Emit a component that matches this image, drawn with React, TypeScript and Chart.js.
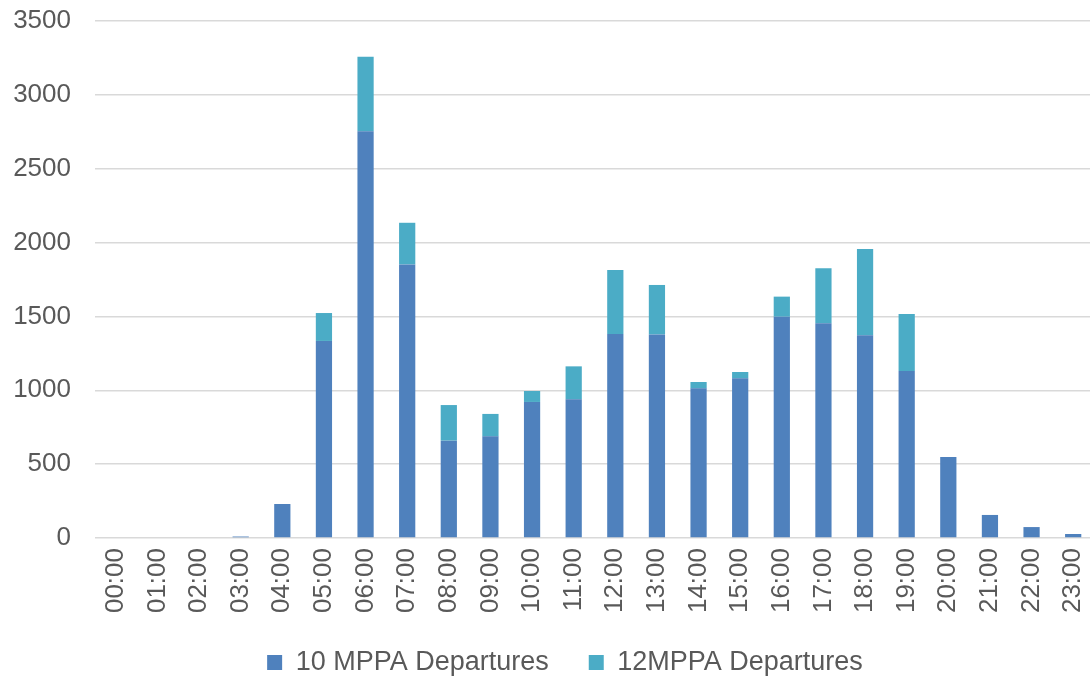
import React, { useEffect, useRef } from "react";
import { Chart, registerables } from "chart.js";

Chart.register(...registerables);

const hours = [
  "00:00", "01:00", "02:00", "03:00", "04:00", "05:00", "06:00", "07:00",
  "08:00", "09:00", "10:00", "11:00", "12:00", "13:00", "14:00", "15:00",
  "16:00", "17:00", "18:00", "19:00", "20:00", "21:00", "22:00", "23:00",
];

const departures10 = [
  0, 0, 0, 10, 230, 1334, 2753, 1852, 659, 688, 921, 939,
  1381, 1378, 1013, 1081, 1498, 1454, 1372, 1131, 548, 156, 74, 27,
];

const departures12Extra = [
  0, 0, 0, 0, 0, 189, 505, 282, 241, 152, 74, 223,
  433, 335, 43, 43, 136, 372, 585, 386, 0, 0, 0, 0,
];

const seriesNames = ["10 MPPA Departures", "12MPPA Departures"];
const seriesColors = ["#4f81bd", "#4bacc6"];

const legendShift = {
  id: "legendShift",
  afterLayout(chart: any) {
    const l = chart.legend;
    if (l) {
      l.left += 36;
      l.top -= 5;
      l.bottom -= 5;
    }
  },
};

export default function App() {
  const canvasRef = useRef<HTMLCanvasElement | null>(null);

  useEffect(() => {
    if (!canvasRef.current) return;
    const font = { family: "'Liberation Sans', Arial, sans-serif", size: 26 };
    const chart = new Chart(canvasRef.current, {
      type: "bar",
      data: {
        labels: hours,
        datasets: [
          {
            label: seriesNames[0],
            data: departures10,
            backgroundColor: seriesColors[0],
            barPercentage: 0.39,
            categoryPercentage: 1,
          },
          {
            label: seriesNames[1],
            data: departures12Extra,
            backgroundColor: seriesColors[1],
            barPercentage: 0.39,
            categoryPercentage: 1,
          },
        ],
      },
      plugins: [legendShift],
      options: {
        responsive: false,
        animation: false,
        layout: { padding: { top: 21, left: 0, right: 0, bottom: 0 } },
        plugins: {
          tooltip: { enabled: false },
          legend: {
            position: "bottom",
            labels: {
              font: { ...font, size: 27 },
              color: "#595959",
              boxWidth: 15,
              boxHeight: 15,
              padding: 40,
            },
          },
        },
        scales: {
          x: {
            stacked: true,
            afterFit: (scale: any) => {
              scale.height = 76;
              scale.paddingLeft = 0;
              scale.paddingRight = 0;
            },
            grid: { display: false, drawTicks: false },
            border: { display: false },
            ticks: {
              font,
              color: "#595959",
              maxRotation: 90,
              minRotation: 90,
              autoSkip: false,
              padding: 10,
            },
          },
          y: {
            stacked: true,
            min: 0,
            max: 3500,
            afterFit: (scale: any) => {
              scale.width = 95;
              scale.paddingTop = 0;
              scale.paddingBottom = 0;
            },
            grid: { color: "#d9d9d9", lineWidth: 1.5, drawTicks: false },
            border: { display: false },
            ticks: {
              stepSize: 500,
              font,
              color: "#595959",
              padding: 24,
              callback: (v: any) => String(v),
            },
          },
        },
      },
    });
    return () => chart.destroy();
  }, []);

  return (
    <div style={{ position: "fixed", left: 0, top: 0, width: 1090, height: 677, overflow: "hidden", background: "#fff" }}>
      <canvas ref={canvasRef} width={1094} height={691} style={{ display: "block" }} />
    </div>
  );
}
